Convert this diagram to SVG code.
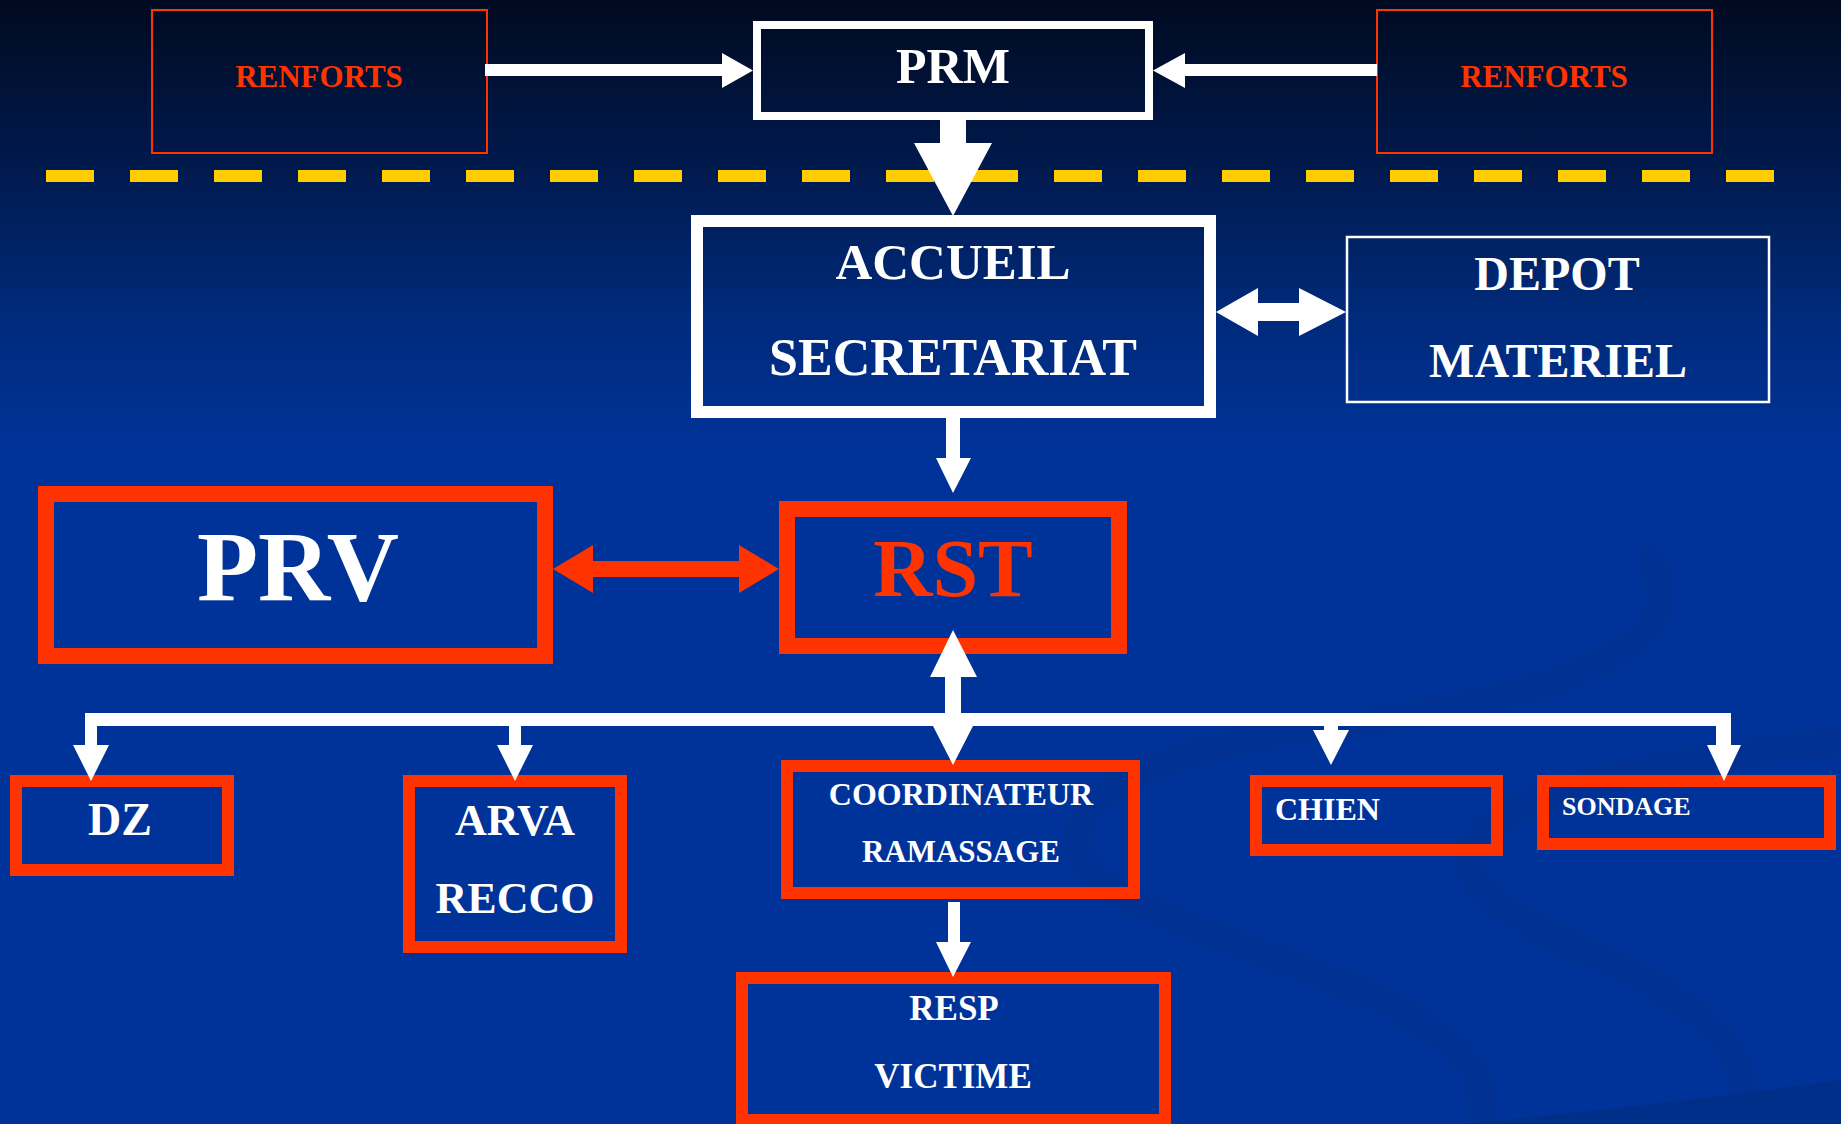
<svg xmlns="http://www.w3.org/2000/svg" width="1841" height="1124" viewBox="0 0 1841 1124">
<defs>
<linearGradient id="bg" x1="0" y1="0" x2="0" y2="1124" gradientUnits="userSpaceOnUse">
<stop offset="0" stop-color="#000a20"/>
<stop offset="0.15" stop-color="#001a4e"/>
<stop offset="0.28" stop-color="#002a7a"/>
<stop offset="0.4" stop-color="#003399"/>
<stop offset="1" stop-color="#003399"/>
</linearGradient>
<style>
.t{font-family:"Liberation Serif","Times New Roman",serif;font-weight:bold;fill:#ffffff;text-anchor:middle}
.r{fill:#ff3300}
.st{text-anchor:start}
.box{fill:none}
.rb{stroke:#ff3300}
.wb{stroke:#ffffff}
.w{fill:#ffffff}
.sw{fill:none;stroke:#002f8c;stroke-linecap:round}
</style>
</defs>
<rect x="0" y="0" width="1841" height="1124" fill="url(#bg)"/>
<g id="decor">
<path class="sw" d="M1650,560 C1700,650 1560,700 1300,730 C1090,760 1020,840 1130,900 C1260,965 1510,1010 1480,1124" stroke-width="30" opacity="0.45"/>
<path class="sw" d="M1841,742 C1650,762 1430,800 1475,880 C1520,955 1790,990 1735,1124" stroke-width="30" opacity="0.45"/>
<path d="M1460,1124 Q1660,1105 1841,1080 L1841,1124 Z" fill="#002f8a"/>
</g>
<g id="separator">
<line x1="46" y1="176" x2="1774" y2="176" stroke="#ffcc00" stroke-width="12" stroke-dasharray="48 36"/>
</g>
<g id="renforts-left">
<rect class="box rb" x="152" y="10" width="335" height="143" stroke-width="2"/>
<text class="t r" x="319" y="87" font-size="31">RENFORTS</text>
</g>
<g id="renforts-right">
<rect class="box rb" x="1377" y="10" width="335" height="143" stroke-width="2"/>
<text class="t r" x="1544" y="87" font-size="31">RENFORTS</text>
</g>
<g id="prm">
<rect class="box wb" x="757" y="25" width="392" height="91" stroke-width="8"/>
<text class="t" x="953" y="83" font-size="50">PRM</text>
</g>
<g id="accueil">
<rect class="box wb" x="697" y="221" width="513" height="191" stroke-width="12"/>
<text class="t" x="953" y="279" font-size="51">ACCUEIL</text>
<text class="t" x="953" y="375" font-size="52">SECRETARIAT</text>
</g>
<g id="depot">
<rect class="box wb" x="1347" y="237" width="422" height="165" stroke-width="2.5"/>
<text class="t" x="1557" y="290" font-size="48">DEPOT</text>
<text class="t" x="1558" y="377" font-size="48">MATERIEL</text>
</g>
<g id="prv">
<rect class="box rb" x="46" y="494" width="499" height="162" stroke-width="16"/>
<text class="t" x="298" y="600" font-size="100">PRV</text>
</g>
<g id="rst">
<rect class="box rb" x="787" y="509" width="332" height="137" stroke-width="16"/>
<text class="t r" x="953" y="596" font-size="82">RST</text>
</g>
<g id="dz">
<rect class="box rb" x="16" y="781" width="212" height="89" stroke-width="12"/>
<text class="t" x="120" y="835" font-size="46">DZ</text>
</g>
<g id="arva">
<rect class="box rb" x="409" y="781" width="212" height="166" stroke-width="12"/>
<text class="t" x="515" y="835" font-size="44">ARVA</text>
<text class="t" x="515" y="913" font-size="44">RECCO</text>
</g>
<g id="coordinateur">
<rect class="box rb" x="787" y="766" width="347" height="127" stroke-width="12"/>
<text class="t" x="961" y="805" font-size="32">COORDINATEUR</text>
<text class="t" x="961" y="862" font-size="31">RAMASSAGE</text>
</g>
<g id="chien">
<rect class="box rb" x="1256" y="781" width="241" height="69" stroke-width="12"/>
<text class="t st" x="1275" y="820" font-size="32">CHIEN</text>
</g>
<g id="sondage">
<rect class="box rb" x="1543" y="781" width="287" height="63" stroke-width="12"/>
<text class="t st" x="1562" y="815" font-size="26">SONDAGE</text>
</g>
<g id="resp-victime">
<rect class="box rb" x="742" y="978" width="423" height="142" stroke-width="12"/>
<text class="t" x="954" y="1020" font-size="35">RESP</text>
<text class="t" x="953" y="1088" font-size="35">VICTIME</text>
</g>
<g id="connectors">
<polygon class="w" points="485,64 722,64 722,53 753,70.5 722,88 722,76 485,76"/>
<polygon class="w" points="1377,64 1185,64 1185,53 1153,70.5 1185,88 1185,76 1377,76"/>
<polygon class="w" points="940,120 966,120 966,143 992,143 953,216 914,143 940,143"/>
<polygon class="w" points="1216,312 1258,288 1258,303 1299,303 1299,288 1346,312 1299,336 1299,321 1258,321 1258,336"/>
<polygon class="w" points="946,418 960,418 960,458 971,458 953,493 936,458 946,458"/>
<polygon class="r" points="553,569 593,545 593,561 739,561 739,545 779,569 739,593 739,577 593,577 593,593"/>
<polygon class="w" points="953,630 977,677 961,677 961,726 973,726 953,765 933,726 945,726 945,677 930,677"/>
<rect class="w" x="85" y="713" width="1646" height="13"/>
<polygon class="w" points="85,713 97,713 97,745 109,745 91,781 73,745 85,745"/>
<polygon class="w" points="509,720 521,720 521,745 533,745 515,781 497,745 509,745"/>
<polygon class="w" points="1324,720 1338,720 1338,730 1349,730 1331,765 1313,730 1324,730"/>
<polygon class="w" points="1716,713 1731,713 1731,745 1741,745 1724,781 1707,745 1716,745"/>
<polygon class="w" points="948,902 960,902 960,942 971,942 953,977 936,942 948,942"/>
</g>
</svg>
